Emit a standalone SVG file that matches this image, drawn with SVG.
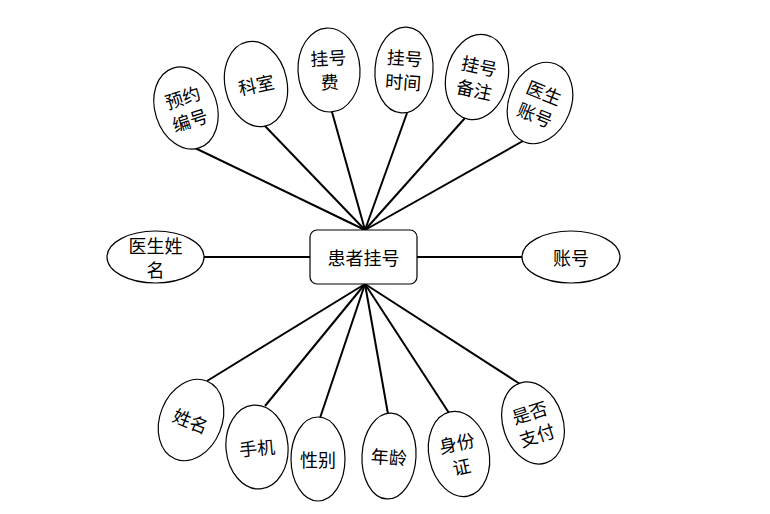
<svg xmlns="http://www.w3.org/2000/svg" width="770" height="514" viewBox="0 0 770 514">
<style>
.e{fill:#fff;stroke:#000;stroke-width:1.2}
.t{font-family:"Noto Sans CJK SC","Liberation Sans",sans-serif;font-size:18px;fill:#000;text-anchor:middle;dominant-baseline:central}
.c{stroke:#000;stroke-width:2;fill:none}
</style>
<rect width="770" height="514" fill="#fff"/>
<g id="connectors">
<line class="c" x1="365" y1="230" x2="195" y2="148"/>
<line class="c" x1="365" y1="230" x2="265" y2="126"/>
<line class="c" x1="365" y1="230" x2="332" y2="112"/>
<line class="c" x1="365" y1="230" x2="407" y2="113"/>
<line class="c" x1="365" y1="230" x2="465" y2="118"/>
<line class="c" x1="365" y1="230" x2="523" y2="141"/>
<line class="c" x1="204" y1="257" x2="310" y2="257"/>
<line class="c" x1="417" y1="257" x2="522" y2="257"/>
<line class="c" x1="365" y1="284" x2="207" y2="381"/>
<line class="c" x1="365" y1="284" x2="265" y2="406"/>
<line class="c" x1="365" y1="284" x2="320" y2="418"/>
<line class="c" x1="365" y1="284" x2="388" y2="414"/>
<line class="c" x1="365" y1="284" x2="449" y2="413"/>
<line class="c" x1="365" y1="284" x2="520" y2="384"/>
</g>
<g id="main">
<rect x="310" y="230" width="107" height="54" rx="7" fill="#fff" stroke="#000" stroke-width="1.2"/>
<text class="t" x="363.5" y="257">患者挂号</text>
</g>
<g id="n-yuyue" transform="translate(186,108) rotate(-18)">
<ellipse class="e" rx="31" ry="42"/>
<text class="t" y="-12">预约</text><text class="t" y="12">编号</text>
</g>
<g id="n-keshi" transform="translate(256,84) rotate(-12)">
<ellipse class="e" rx="31" ry="43"/>
<text class="t">科室</text>
</g>
<g id="n-guahaofei" transform="translate(329,70) rotate(-3)">
<ellipse class="e" rx="31" ry="42"/>
<text class="t" y="-13">挂号</text><text class="t" y="11">费</text>
</g>
<g id="n-guahaoshijian" transform="translate(404,70) rotate(4)">
<ellipse class="e" rx="29" ry="43"/>
<text class="t" y="-13">挂号</text><text class="t" y="11">时间</text>
</g>
<g id="n-guahaobeizhu" transform="translate(477,77) rotate(12)">
<ellipse class="e" rx="31" ry="43"/>
<text class="t" y="-12">挂号</text><text class="t" y="12">备注</text>
</g>
<g id="n-yishengzhanghao" transform="translate(540,103) rotate(22)">
<ellipse class="e" rx="31" ry="42"/>
<text class="t" y="-12">医生</text><text class="t" y="12">账号</text>
</g>
<g id="n-yishengxingming">
<ellipse class="e" cx="155.5" cy="257" rx="48.5" ry="26"/>
<text class="t" x="155.5" y="245">医生姓</text><text class="t" x="155.5" y="269">名</text>
</g>
<g id="n-zhanghao">
<ellipse class="e" cx="571" cy="257" rx="49" ry="26"/>
<text class="t" x="571" y="257">账号</text>
</g>
<g id="n-xingming" transform="translate(191,420) rotate(22)">
<ellipse class="e" rx="31" ry="42"/>
<text class="t">姓名</text>
</g>
<g id="n-shouji" transform="translate(257,447) rotate(-5)">
<ellipse class="e" rx="31" ry="42"/>
<text class="t">手机</text>
</g>
<g id="n-xingbie" transform="translate(318,459)">
<ellipse class="e" rx="27" ry="42"/>
<text class="t">性别</text>
</g>
<g id="n-nianling" transform="translate(389,456) rotate(3)">
<ellipse class="e" rx="27" ry="43"/>
<text class="t">年龄</text>
</g>
<g id="n-shenfenzheng" transform="translate(459,454) rotate(-12)">
<ellipse class="e" rx="30" ry="43"/>
<text class="t" y="-12">身份</text><text class="t" y="12">证</text>
</g>
<g id="n-shifouzhifu" transform="translate(533,423) rotate(-18)">
<ellipse class="e" rx="30" ry="42"/>
<text class="t" y="-12">是否</text><text class="t" y="12">支付</text>
</g>
</svg>
